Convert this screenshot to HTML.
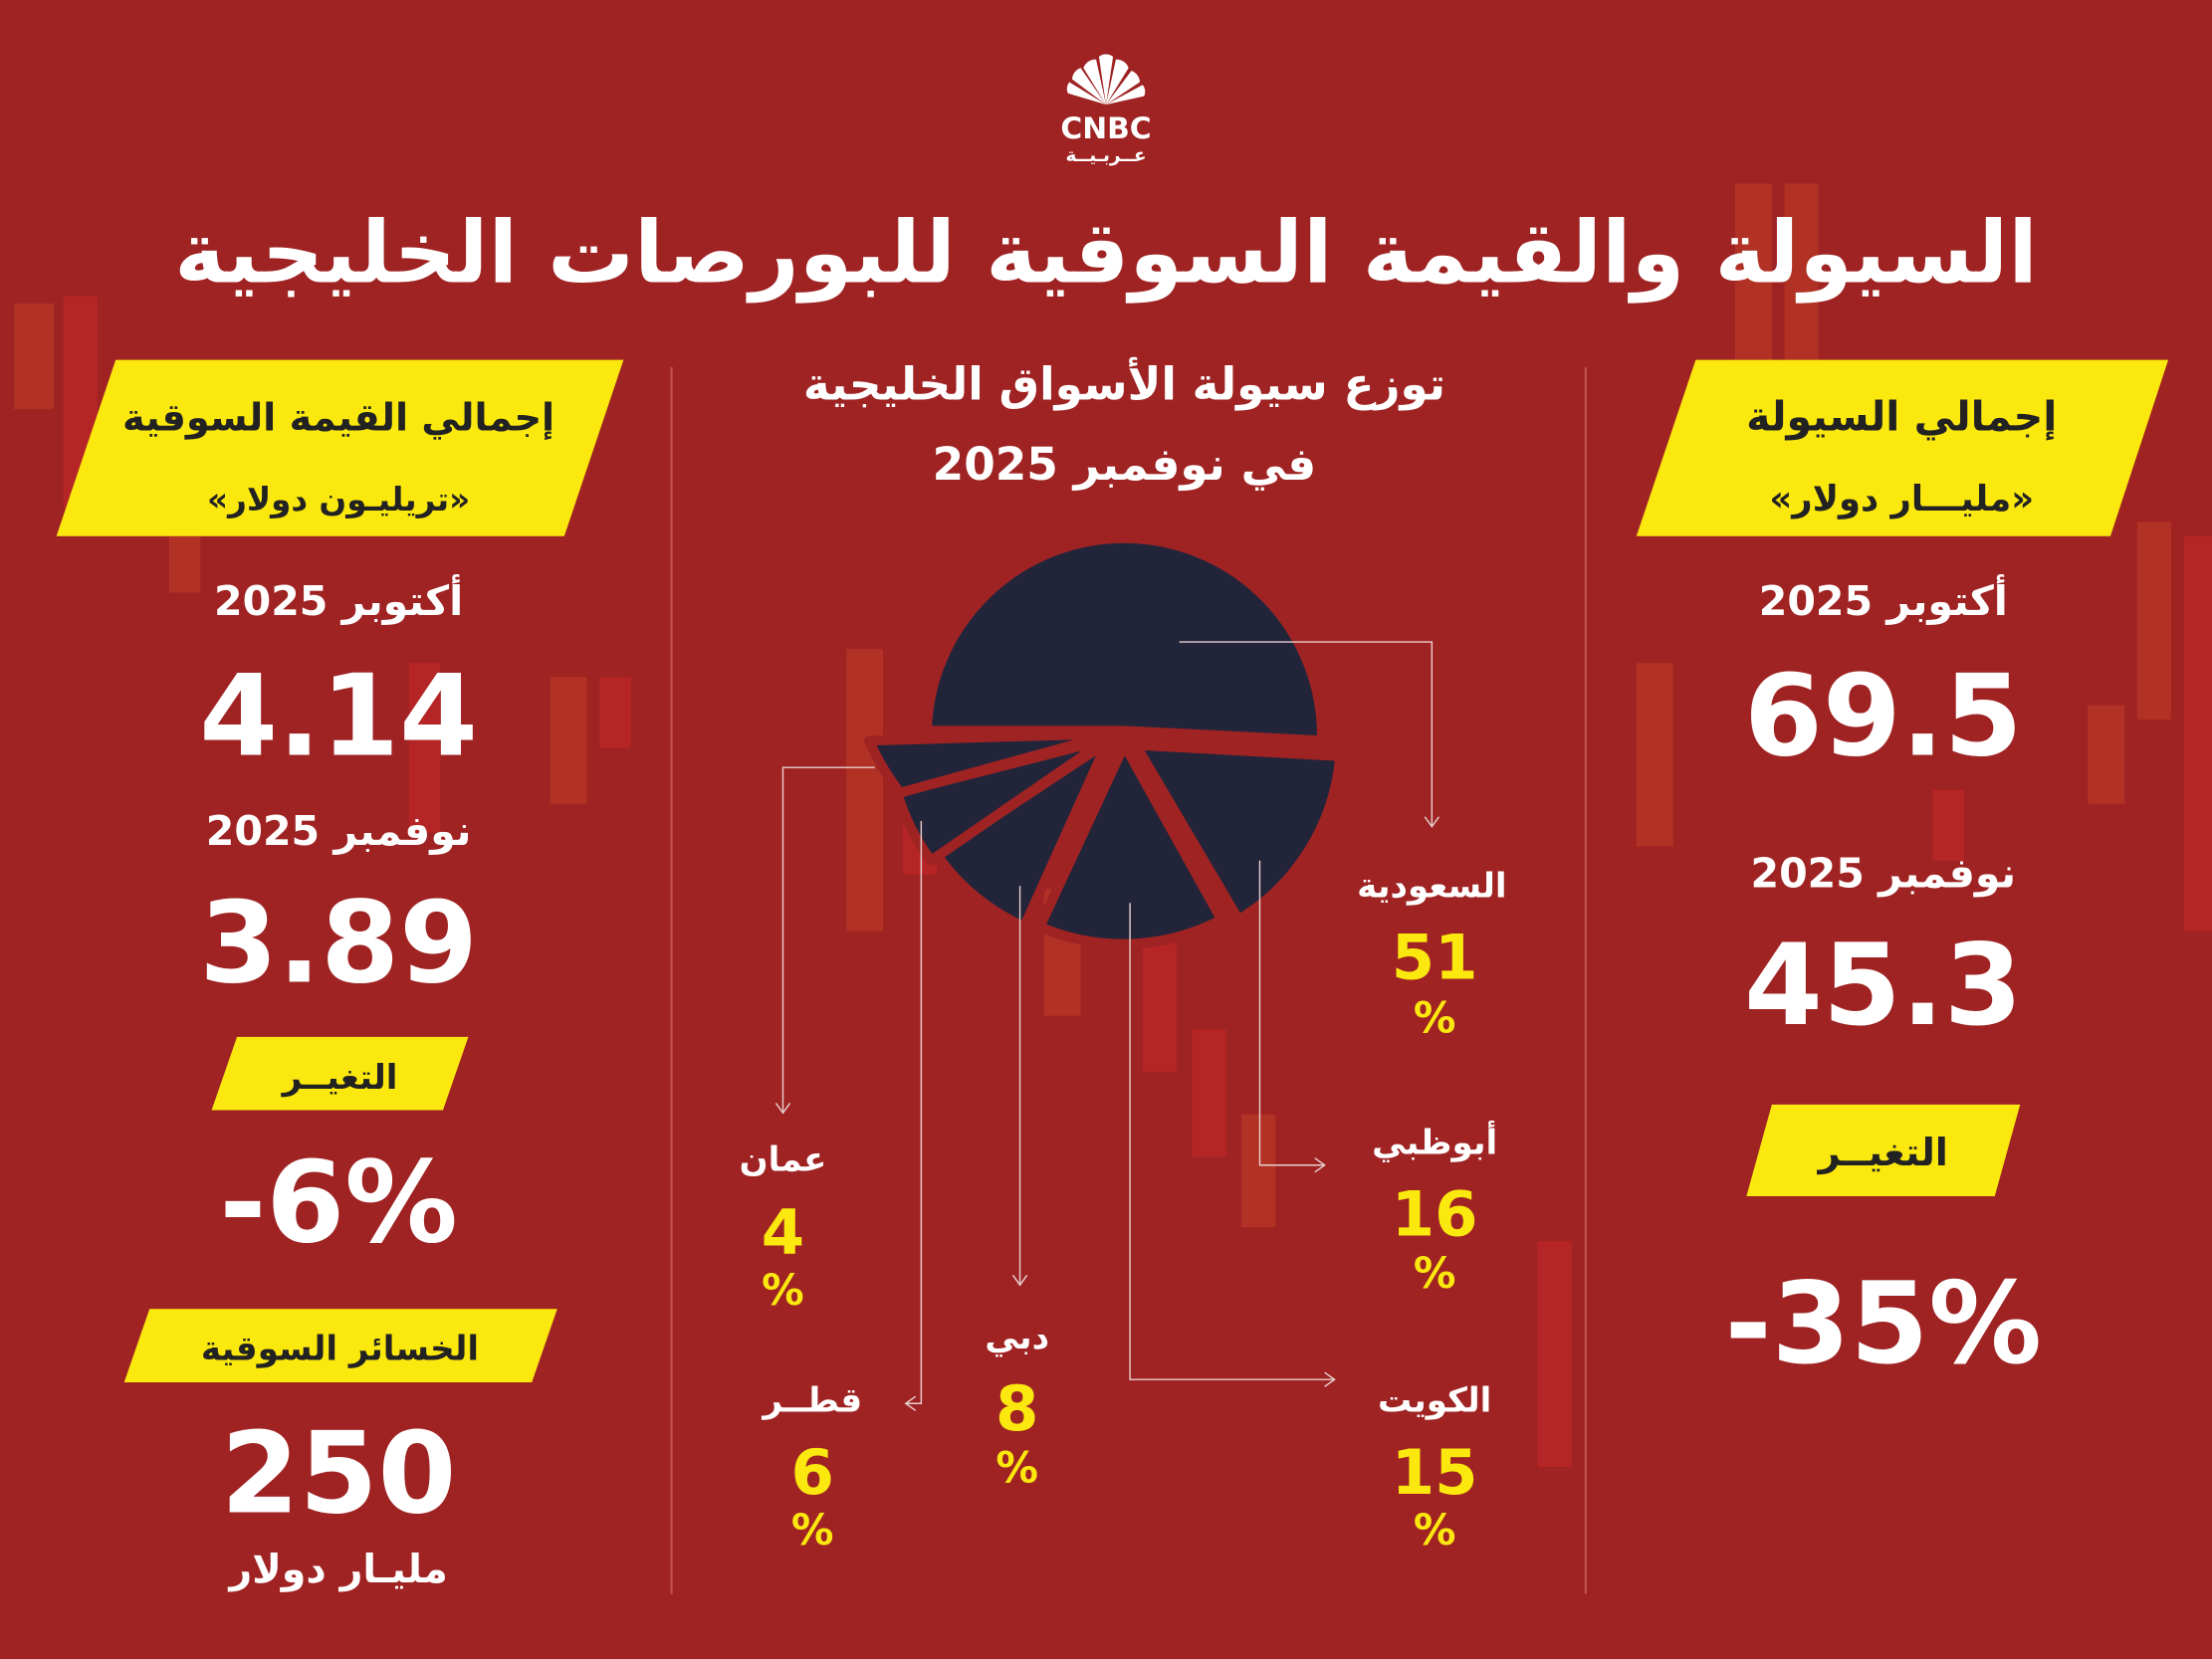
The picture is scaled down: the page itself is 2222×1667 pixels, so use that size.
<!DOCTYPE html>
<html><head><meta charset="utf-8">
<style>
html,body{margin:0;padding:0;background:#a02323;}
svg{display:block}
text{font-family:"DejaVu Sans","Liberation Sans",sans-serif;font-weight:bold;}
</style></head>
<body>
<svg width="2222" height="1667" viewBox="0 0 1568 1176" xmlns="http://www.w3.org/2000/svg">
<rect width="1568" height="1176" fill="#a02323"/>
<g opacity="0.35">
<rect x="10" y="215" width="28" height="75" fill="#d2502a"/><rect x="45" y="210" width="24" height="150" fill="#e02a2a"/>
<rect x="120" y="330" width="22" height="90" fill="#d2502a"/><rect x="290" y="470" width="22" height="120" fill="#e02a2a"/>
<rect x="390" y="480" width="26" height="90" fill="#d2502a"/><rect x="425" y="480" width="22" height="50" fill="#e02a2a"/>
<rect x="600" y="460" width="26" height="200" fill="#d2502a"/><rect x="640" y="540" width="24" height="80" fill="#e02a2a"/>
<rect x="740" y="630" width="26" height="90" fill="#d2502a"/><rect x="810" y="660" width="24" height="100" fill="#e02a2a"/>
<rect x="845" y="730" width="24" height="90" fill="#e02a2a"/><rect x="880" y="790" width="24" height="80" fill="#d2502a"/>
<rect x="1090" y="880" width="24" height="160" fill="#e02a2a"/><rect x="1160" y="470" width="26" height="130" fill="#d2502a"/>
<rect x="1230" y="130" width="26" height="180" fill="#d2502a"/><rect x="1265" y="130" width="24" height="140" fill="#d2502a"/>
<rect x="1480" y="500" width="26" height="70" fill="#d2502a"/><rect x="1515" y="370" width="24" height="140" fill="#d2502a"/>
<rect x="1548" y="380" width="20" height="280" fill="#e02a2a"/><rect x="1370" y="560" width="22" height="50" fill="#e02a2a"/>
</g>
<line x1="476" y1="260" x2="476" y2="1130" stroke="#c45050" stroke-width="1.5"/>
<line x1="1124" y1="260" x2="1124" y2="1130" stroke="#c45050" stroke-width="1.5"/>
<g fill="#fff">
<path d="M784 74 L768 48 A9 9 0 0 1 777 42 Z"/><path d="M784 74 L779 40 A8 8 0 0 1 789 40 Z"/>
<path d="M784 74 L791 42 A9 9 0 0 1 800 48 Z"/><path d="M784 74 L760 56 A9 9 0 0 1 766 48 Z"/>
<path d="M784 74 L802 50 A9 9 0 0 1 808 58 Z"/><path d="M784 74 L757 66 A8 8 0 0 1 758 58 Z"/>
<path d="M784 74 L810 60 A8 8 0 0 1 811 68 Z"/>
<text x="784" y="98" font-size="21" text-anchor="middle">CNBC</text>
<text x="784" y="114" font-size="13" text-anchor="middle" direction="rtl">عــربـيــة</text>
</g>
<text x="784" y="200" font-size="61" fill="#fff" text-anchor="middle" direction="rtl">السيولة والقيمة السوقية للبورصات الخليجية</text>
<polygon points="82,255 442,255 400,380 40,380" fill="#fbe80f"/>
<text x="240" y="305" font-size="27" fill="#222" text-anchor="middle" direction="rtl">إجمالي القيمة السوقية</text>
<text x="240" y="362" font-size="23" fill="#222" text-anchor="middle" direction="rtl">«تريليـون دولار»</text>
<text x="240" y="436" font-size="29" fill="#fff" text-anchor="middle">أكتوبر 2025</text>
<text x="240" y="535" font-size="80" fill="#fff" text-anchor="middle">4.14</text>
<text x="240" y="599" font-size="29" fill="#fff" text-anchor="middle">نوفمبر 2025</text>
<text x="240" y="696" font-size="80" fill="#fff" text-anchor="middle">3.89</text>
<polygon points="168,735 332,735 314,787 150,787" fill="#fbe80f"/>
<text x="241" y="772" font-size="24" fill="#222" text-anchor="middle" direction="rtl">التغيــر</text>
<text x="240" y="880" font-size="80" fill="#fff" text-anchor="middle">-6%</text>
<polygon points="106,928 395,928 377,980 88,980" fill="#fbe80f"/>
<text x="241" y="964" font-size="24" fill="#222" text-anchor="middle" direction="rtl">الخسائر السوقية</text>
<text x="240" y="1072" font-size="80" fill="#fff" text-anchor="middle">250</text>
<text x="240" y="1122" font-size="28" fill="#fff" text-anchor="middle" direction="rtl">مليـار دولار</text>
<polygon points="1202,255 1537,255 1496,380 1160,380" fill="#fbe80f"/>
<text x="1348" y="305" font-size="29" fill="#222" text-anchor="middle" direction="rtl">إجمالي السيولة</text>
<text x="1348" y="362" font-size="25" fill="#222" text-anchor="middle" direction="rtl">«مليـــار دولار»</text>
<text x="1335" y="436" font-size="29" fill="#fff" text-anchor="middle">أكتوبر 2025</text>
<text x="1335" y="535" font-size="80" fill="#fff" text-anchor="middle">69.5</text>
<text x="1335" y="629" font-size="29" fill="#fff" text-anchor="middle">نوفمبر 2025</text>
<text x="1335" y="726" font-size="80" fill="#fff" text-anchor="middle">45.3</text>
<polygon points="1256,783 1432,783 1414,848 1238,848" fill="#fbe80f"/>
<text x="1335" y="826" font-size="27" fill="#222" text-anchor="middle" direction="rtl">التغيــر</text>
<text x="1335" y="966" font-size="80" fill="#fff" text-anchor="middle">-35%</text>
<text x="797" y="283" font-size="32" fill="#fff" text-anchor="middle" direction="rtl">توزع سيولة الأسواق الخليجية</text>
<text x="797" y="340" font-size="32" fill="#fff" text-anchor="middle">في نوفمبر 2025</text>
<g fill="#22243a" stroke="#a02323" stroke-width="7" stroke-linejoin="round">
<path d="M797 518 L657 518 A140 140 0 1 1 937 525 Z"/>
<path d="M805 528 L950 536 A150 150 0 0 1 878 652 Z"/>
<path d="M797 528 L866 652 A150 150 0 0 1 737 657 Z"/>
<path d="M785 526 L726 657 A150 150 0 0 1 664 606 Z"/>
<path d="M785 524 L660 610 A150 150 0 0 1 636 562 Z"/>
<path d="M790 520 L616 525 A175 175 0 0 0 638 562 Z"/>
</g>
<g stroke="#e8d0d0" stroke-width="1" fill="none">
<polyline points="836,455 1015,455 1015,585"/><polyline points="1010,579 1015,586 1020,579"/>
<polyline points="893,610 893,826 938,826"/><polyline points="932,821 939,826 932,831"/>
<polyline points="801,640 801,978 945,978"/><polyline points="939,973 946,978 939,983"/>
<polyline points="723,628 723,910"/><polyline points="718,904 723,911 728,904"/>
<polyline points="653,582 653,995 643,995"/><polyline points="649,990 642,995 649,1000"/>
<polyline points="620,544 555,544 555,788"/><polyline points="550,782 555,789 560,782"/>
</g>
<g text-anchor="middle">
<text x="1015" y="636" font-size="24" fill="#fff">السعودية</text>
<text x="1017" y="694" font-size="44" fill="#fbe80f">51</text>
<text x="1017" y="732" font-size="30" fill="#fbe80f">%</text>
<text x="1017" y="818" font-size="24" fill="#fff">أبوظبي</text>
<text x="1017" y="876" font-size="44" fill="#fbe80f">16</text>
<text x="1017" y="913" font-size="30" fill="#fbe80f">%</text>
<text x="1017" y="1001" font-size="24" fill="#fff">الكويت</text>
<text x="1017" y="1059" font-size="44" fill="#fbe80f">15</text>
<text x="1017" y="1095" font-size="30" fill="#fbe80f">%</text>
<text x="721" y="956" font-size="24" fill="#fff">دبي</text>
<text x="721" y="1014" font-size="44" fill="#fbe80f">8</text>
<text x="721" y="1051" font-size="30" fill="#fbe80f">%</text>
<text x="576" y="1001" font-size="24" fill="#fff">قطــر</text>
<text x="576" y="1059" font-size="44" fill="#fbe80f">6</text>
<text x="576" y="1095" font-size="30" fill="#fbe80f">%</text>
<text x="555" y="830" font-size="24" fill="#fff">عمان</text>
<text x="555" y="889" font-size="44" fill="#fbe80f">4</text>
<text x="555" y="925" font-size="30" fill="#fbe80f">%</text>
</g>
</svg>
</body></html>
